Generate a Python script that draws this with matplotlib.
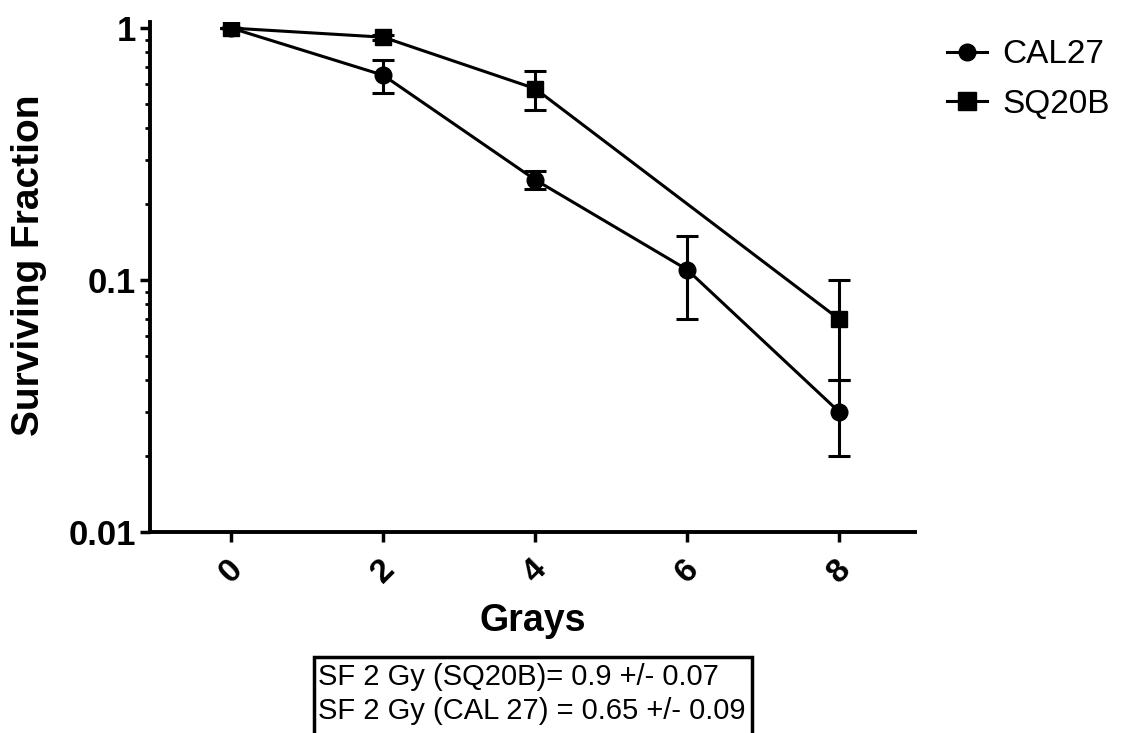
import matplotlib
matplotlib.use("Agg")
import matplotlib.pyplot as plt
from matplotlib.patches import Rectangle
from matplotlib.lines import Line2D
from matplotlib.ticker import LogLocator, FixedLocator, NullFormatter

plt.rcParams['font.family'] = ['Liberation Sans', 'DejaVu Sans']

# data
cal27_x = [0, 2, 4, 6, 8]
cal27_y = [1.0, 0.65, 0.25, 0.11, 0.03]
cal27_err = [0.0, 0.10, 0.02, 0.04, 0.01]

sq20b_x = [0, 2, 4, 8]
sq20b_y = [1.0, 0.92, 0.575, 0.07]
sq20b_err = [0.0, 0.02, 0.10, 0.03]

xticks = [0, 2, 4, 6, 8]
yticks = [0.01, 0.1, 1]
ytick_labels = ["0.01", "0.1", "1"]
series_names = ["CAL27", "SQ20B"]
box_lines = ["SF 2 Gy (SQ20B)= 0.9 +/- 0.07", "SF 2 Gy (CAL 27) = 0.65 +/- 0.09"]

W, H = 1135, 733
fig = plt.figure(figsize=(W / 100, H / 100), dpi=100)
ax = fig.add_axes([150 / W, 1 - 532 / H, (915 - 150) / W, (532 - 22) / H])

ax.errorbar(cal27_x, cal27_y, yerr=cal27_err, color='black', lw=2.2, marker='o',
            ms=12, capsize=8, capthick=2.2, elinewidth=2.2)
ax.errorbar(sq20b_x, sq20b_y, yerr=sq20b_err, color='black', lw=2.2, marker='s',
            ms=12, capsize=8, capthick=2.2, elinewidth=2.2)

ax.set_yscale('log')
ax.set_ylim(0.01, 1.057)
ax.set_xlim(-1.07, 9.0)

ax.spines['top'].set_visible(False)
ax.spines['right'].set_visible(False)
ax.spines['left'].set_linewidth(2.8)
ax.spines['bottom'].set_linewidth(2.8)

ax.xaxis.set_major_locator(FixedLocator(xticks))
ax.set_xticklabels([str(t) for t in xticks], rotation=45, fontsize=24,
                   fontweight='bold', ha='center', va='top')
ax.set_yticks(yticks)
ax.set_yticklabels(ytick_labels, fontsize=25, fontweight='bold')
ax.yaxis.set_minor_locator(LogLocator(base=10, subs=range(2, 10)))
ax.yaxis.set_minor_formatter(NullFormatter())
ax.tick_params(axis='both', which='major', direction='out', length=7, width=2.5, pad=3)
ax.tick_params(axis='x', pad=9)
ax.tick_params(axis='y', which='minor', direction='out', length=3.5, width=2)

ax.set_xlabel('Grays', fontsize=27, fontweight='bold', labelpad=10)
ax.set_ylabel('Surviving Fraction', fontsize=28, fontweight='bold')
ax.yaxis.set_label_coords(-0.135, 0.5235)

handles = [Line2D([], [], color='black', lw=2.2, marker='o', ms=12),
           Line2D([], [], color='black', lw=2.2, marker='s', ms=13)]
ax.legend(handles, series_names, loc='upper left', bbox_to_anchor=(1.003, 1.025),
          frameon=False, fontsize=24, handlelength=1.2, handletextpad=0.45,
          labelspacing=0.55)

# annotation box
fig.patches.append(Rectangle((314 / W, -0.05), (752 - 314) / W, 0.05 + (H - 657) / H,
                             transform=fig.transFigure, fill=False, lw=2.5,
                             edgecolor='black'))
fig.text(318 / W, 1 - 677 / H, box_lines[0], fontsize=21, va='center', ha='left')
fig.text(318 / W, 1 - 711 / H, box_lines[1], fontsize=21, va='center', ha='left')

fig.savefig('out.png', dpi=100)
